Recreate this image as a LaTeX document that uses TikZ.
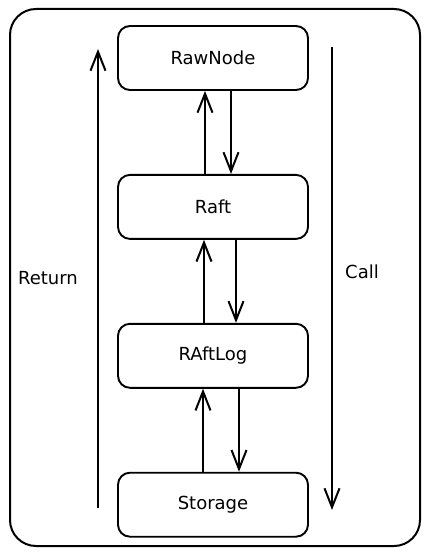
\documentclass[tikz,border=0pt]{standalone}
\usepackage{fontspec}
\setmainfont{DejaVu Sans}
\usepackage{tikz}
\usetikzlibrary{arrows.meta,positioning,calc}

\begin{document}
\begin{tikzpicture}[
    x=1pt, y=1pt,
    node distance=83pt,
    layer/.style={rectangle, draw, line width=1.9pt, rounded corners=12pt, minimum width=190pt, minimum height=64pt, align=center, font=\fontsize{18}{21}\selectfont},
    arrow/.style={-{Straight Barb[length=19pt, width=15pt, line width=2pt]}, line width=2.1pt},
    label/.style={font=\fontsize{18}{21}\selectfont}
]
\useasboundingbox (0,0) rectangle (430,-556);

% outer frame
\draw[line width=2pt, rounded corners=26pt] (10,-9) rectangle (420,-546);

\node[layer] (rawnode) at (213,-58) {RawNode};
\node[layer, below=of rawnode] (raft) {Raft};
\node[layer, below=of raft] (raftlog) {RAftLog};
\node[layer, below=of raftlog] (storage) {Storage};

% return path (up) and call path (down)
\draw[arrow] ([xshift=-8pt]raft.north) -- ([xshift=-8pt]rawnode.south);
\draw[arrow] ([xshift=18pt]rawnode.south) -- ([xshift=18pt]raft.north);
\draw[arrow] ([xshift=-9pt]raftlog.north) -- ([xshift=-9pt]raft.south);
\draw[arrow] ([xshift=23pt]raft.south) -- ([xshift=23pt]raftlog.north);
\draw[arrow] ([xshift=-10pt]storage.north) -- ([xshift=-10pt]raftlog.south);
\draw[arrow] ([xshift=26pt]raftlog.south) -- ([xshift=26pt]storage.north);

\coordinate (retbot) at (98,-508);
\coordinate (rettop) at (98,-49);
\coordinate (calltop) at (332,-47);
\coordinate (callbot) at (332,-510);
\draw[arrow] (retbot) -- (rettop);
\draw[arrow] (calltop) -- (callbot);

\node[label] (ret) at (48,-278) {Return};
\node[label] (call) at (362,-272) {Call};

\end{tikzpicture}
\end{document}
